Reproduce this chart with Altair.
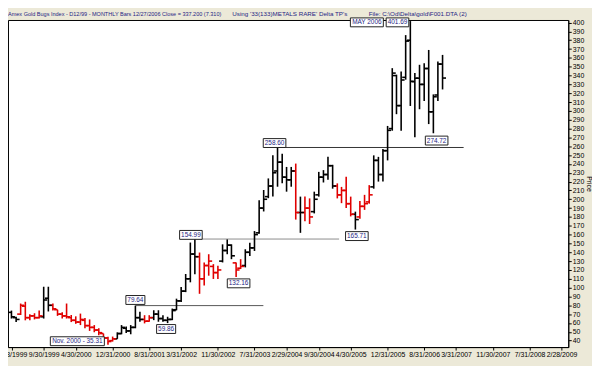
import calendar
import altair as alt
import pandas as pd

# ---------------- data ----------------
# one bar per month, dated at month end: Feb 1999 .. Dec 2006
dates = []
yr, mo = 1999, 2
for _ in range(95):
    dates.append(f"{yr:04d}-{mo:02d}-{calendar.monthrange(yr, mo)[1]:02d}")
    mo += 1
    if mo > 12:
        mo, yr = 1, yr + 1

opens = [
    72, 66, 70, 79, 66, 68, 66, 67, 88, 80,
    75, 70, 68, 66, 63, 61, 63, 57, 55, 52,
    48, 43, 40, 42, 48, 54, 51, 55, 66, 64,
    62, 66, 70, 65, 63, 64, 75, 85, 96, 110,
    138, 135, 110, 125, 124, 117, 130, 142, 148, 128,
    122, 125, 140, 145, 162, 190, 203, 215, 232, 242,
    225, 222, 232, 185, 185, 190, 186, 205, 225, 228,
    238, 215, 205, 210, 195, 183, 180, 192, 197, 214,
    244, 228, 255, 280, 340, 306, 338, 380, 333, 337,
    330, 348, 299, 318, 353]
highs = [
    74, 67, 82, 84, 70, 71, 74, 101, 101, 82,
    75, 72, 82, 69, 67.5, 70.6, 65.7, 64, 57.6, 54,
    48, 44.4, 44.6, 49.4, 57.6, 56, 57.6, 79.64, 72.6, 68.8,
    68.8, 74.4, 74.4, 68.8, 67, 76.3, 87.5, 100.6, 115.4, 151,
    154.99, 139.7, 128.5, 137.8, 126.6, 124.7, 149, 154.6, 149, 128.5,
    132.2, 143.4, 150.9, 164, 199, 210.5, 223.6, 249.7, 258.6, 251.6,
    236.6, 236.6, 240.4, 203, 203, 201, 208.6, 231, 233, 248,
    239, 218, 214, 225.4, 203, 186, 198, 205, 216, 249.7,
    248, 257, 283, 348.4, 341, 344.7, 385.8, 401.69, 342.8, 352.2,
    354, 369, 318.7, 355.9, 363.4]
lows = [
    65, 61, 69, 63, 63, 64, 65, 65, 73, 74,
    68, 65, 65, 61, 59, 57.6, 54, 51, 49.5, 46,
    38, 35.31, 39, 42, 47.2, 48.5, 47.2, 54, 61.4, 59.5,
    61.4, 63.2, 61.4, 61.4, 59.86, 63.2, 74.4, 83.8, 94.9, 106,
    115, 93, 102.3, 113.5, 109.8, 109.8, 128.5, 137.8, 132.2, 112,
    121, 122.9, 135.9, 141.5, 161, 186.2, 201.2, 203, 214.2, 218,
    208.6, 214.2, 177, 162, 175, 172, 184, 203, 219, 222,
    212, 201, 195.6, 190, 180.6, 165.71, 178, 188, 195, 212,
    220, 220, 244, 277.6, 296.3, 277.6, 335.4, 305.6, 270.1, 301.9,
    311.2, 285.1, 274.72, 311.2, 324.3]
closes = [
    67, 64, 80, 66, 68, 66, 68, 86, 80, 76,
    70, 68, 67, 63, 61, 64, 57, 55, 52, 49,
    43, 39, 42, 48, 55, 51, 55, 66, 64, 62,
    66, 70, 65, 63, 64, 74, 85, 96, 110, 138,
    135, 110, 125, 130, 117, 120, 142, 148, 136, 120,
    124, 140, 145, 160, 190, 200, 215, 230, 242, 225,
    222, 232, 185, 185, 190, 180, 200, 225, 228, 238,
    215, 205, 210, 195, 183, 177, 192, 195, 205, 244,
    228, 255, 278, 342.8, 306, 335, 379, 333.6, 337, 330,
    348, 299, 316, 353, 337.2]
# k = black phase, r = red phase
phase = list("kk" "rrrrr" "kk" "rrrrrrrrrrrrrr" "kkkkkk" "rr" "kkkkkkkkkk"
             "rrrrr" "kkk" "rr" "kkkkkkkkkkk" "r" "k" "rr" "kkkkk" "rrrr"
             "k" "rrr" "kkkkkkkkkkkkkkkk")
assert len(dates) == len(opens) == len(highs) == len(lows) == len(closes) == len(phase) == 95

x_tick_dates = ["1999-02-28", "1999-09-30", "2000-04-30", "2000-12-31",
                "2001-08-31", "2002-03-31", "2002-11-30", "2003-07-31",
                "2004-02-29", "2004-09-30", "2005-04-30", "2005-12-31",
                "2006-08-31", "2007-03-31", "2007-11-30", "2008-07-31",
                "2009-02-28"]
y_ticks = list(range(40, 401, 10))

title_parts = ["Amex Gold Bugs Index - D12/99  - MONTHLY Bars  12/27/2006 Close = 337.200 (7.310)",
               "Using '33(133)METALS RARE' Delta TP's",
               "File: C:\\Od\\Delta\\gold\\F001.DTA (2)"]
title_x = [0, 227, 365]
title_fs = [5.6, 6.3, 6.3]

# boxed labels: text, bar index, anchored on high or low
ann_text = ["Nov. 2000 - 35.31", "79.64", "59.86", "154.99", "132.16",
            "258.60", "165.71", "274.72", "MAY 2006", "401.69"]
ann_bar = [21, 27, 34, 40, 49, 58, 75, 92, 87, 87]
ann_kind = ["low", "high", "low", "high", "low", "high", "low", "low", "high", "high"]
ann_dx = [-31, 0, -1.5, -4, 2.5, -3, 1.5, 3.3, -44, -13]
ann_dy = [-3.6, -5.7, 6, -4.2, 6.4, -4.5, 6.6, 7.4, 1.3, 1.3]

# horizontal level lines
level_values = [258.60, 154.99, 79.64]
level_start = [dates[58], dates[40], dates[27]]
level_end = ["2007-05-20", "2005-02-12", "2003-09-28"]
level_colors = ["#333333", "#8c8c8c", "#555555"]

# ---------------- chart ----------------
FONT = "Liberation Sans"
TXT_BLUE = "#1e1e84"


def ms(s):
    return int(pd.Timestamp(s).value // 10**6)


xs = alt.Scale(type="utc", domain=[ms("1999-02-05"), ms("2009-04-14")], nice=False)
ys = alt.Scale(domain=[32.7, 402.9], nice=False, zero=False)
xaxis = alt.Axis(values=[ms(d) for d in x_tick_dates],
                 labelExpr="utcFormat(datum.value, '%-m/%-d/%Y')",
                 title=None, grid=False, tickSize=3, labelPadding=1,
                 labelFontSize=7, labelFont=FONT, labelColor="#000",
                 domainColor="#000", tickColor="#000", labelFlush=False,
                 labelOverlap=False)
yaxis = alt.Axis(orient="right", values=y_ticks, title="Price", grid=False,
                 tickSize=3, labelPadding=1, labelFontSize=7, labelFont=FONT,
                 labelColor="#000", domainColor="#000", tickColor="#000",
                 titleFontSize=7, titleFont=FONT, titleFontWeight="normal",
                 titleColor="#000", titlePadding=2)

df = pd.DataFrame({"date": dates, "open": opens, "high": highs,
                   "low": lows, "close": closes, "phase": phase})
col = alt.Color("phase:N", scale=alt.Scale(domain=["k", "r"], range=["#000000", "#e00000"]),
                legend=None)
X = alt.X("date:T", scale=xs, axis=xaxis)

lv = pd.DataFrame({"start": level_start, "end": level_end, "v": level_values, "c": level_colors})
levels = alt.Chart(lv).mark_rule(strokeWidth=1).encode(
    x=alt.X("start:T", scale=xs, axis=xaxis), x2="end:T",
    y=alt.Y("v:Q", scale=ys, axis=yaxis), color=alt.Color("c:N", scale=None))

base = alt.Chart(df)
hl = base.mark_rule(strokeWidth=1.6).encode(
    x=X, y=alt.Y("low:Q", scale=ys, axis=yaxis), y2="high:Q", color=col)
op = base.mark_rule(strokeWidth=1.6, xOffset=-3.5).encode(
    x=X, x2="date:T", y=alt.Y("open:Q", scale=ys, axis=yaxis), color=col)
cl = base.mark_rule(strokeWidth=1.6, x2Offset=3.5).encode(
    x=X, x2="date:T", y=alt.Y("close:Q", scale=ys, axis=yaxis), color=col)

layers = [levels, hl, op, cl]

CW = {".": .278, " ": .278, "-": .333, "N": .722, "o": .556, "v": .5,
      "M": .833, "A": .667, "Y": .667}
ANN_FS = 6.5
for t, b, k, dx, dy in zip(ann_text, ann_bar, ann_kind, ann_dx, ann_dy):
    val = highs[b] if k == "high" else lows[b]
    w = sum(CW.get(ch, .556) for ch in t) * ANN_FS + 3
    h = 9
    d = pd.DataFrame({"date": [dates[b]], "v": [val], "t": [t]})
    box = alt.Chart(d).mark_rect(
        fill="white", stroke="#222", strokeWidth=1,
        xOffset=dx - w / 2, x2Offset=dx + w / 2,
        yOffset=dy - h / 2, y2Offset=dy + h / 2).encode(
        x=alt.X("date:T", scale=xs, axis=xaxis), x2="date:T",
        y=alt.Y("v:Q", scale=ys, axis=yaxis), y2="v:Q")
    txt = alt.Chart(d).mark_text(
        dx=dx, dy=dy, fontSize=ANN_FS, font=FONT, color=TXT_BLUE,
        align="center", baseline="middle").encode(
        x=alt.X("date:T", scale=xs, axis=xaxis),
        y=alt.Y("v:Q", scale=ys, axis=yaxis), text="t:N")
    layers += [box, txt]

for t, px, fs in zip(title_parts, title_x, title_fs):
    layers.append(
        alt.Chart(pd.DataFrame({"t": [t]})).mark_text(
            align="left", baseline="middle", fontSize=fs, font=FONT,
            color=TXT_BLUE).encode(x=alt.value(px), y=alt.value(-6), text="t:N"))

chart = alt.layer(*layers).properties(
    width=567, height=331,
    autosize=alt.AutoSizeParams(type="none"),
    padding={"left": 0, "top": 10, "right": 24, "bottom": 17},
).configure(background="#ECE9D8").configure_view(
    stroke="#000", strokeWidth=1, fill="white")

chart.save("out.html", embed_options={"renderer": "svg", "actions": False})
